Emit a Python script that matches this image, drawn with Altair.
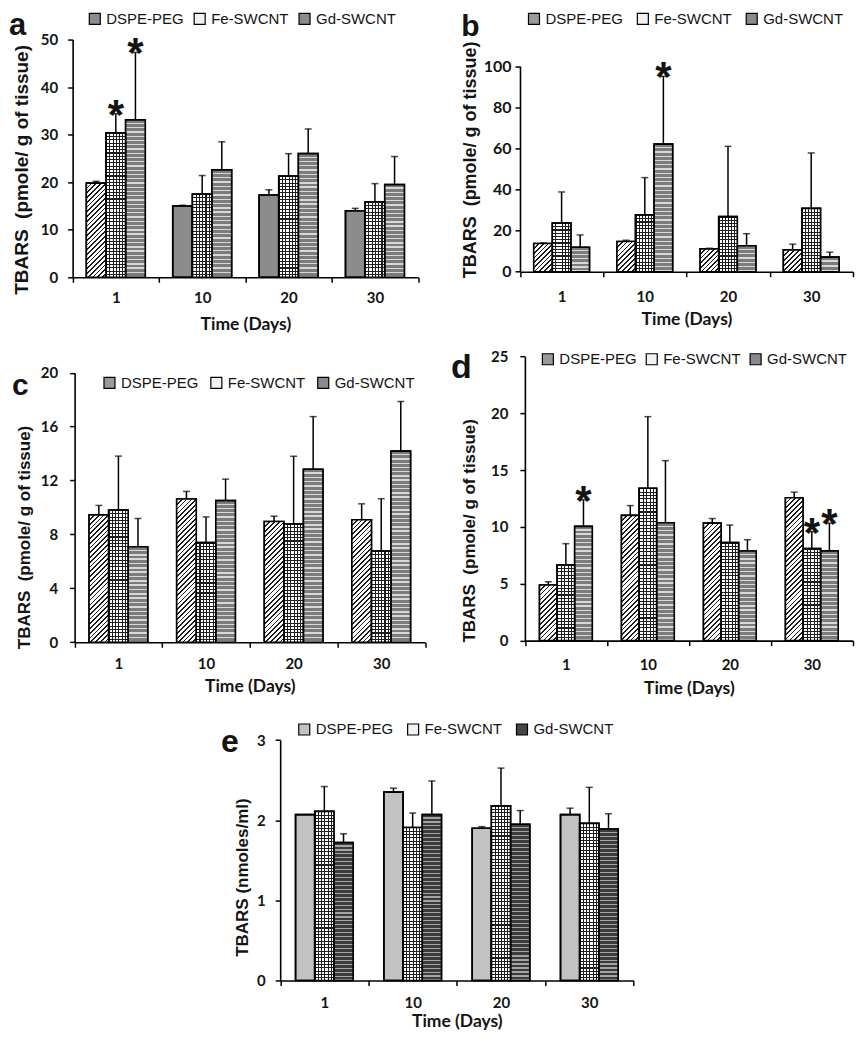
import math
import altair as alt
import pandas as pd

# ------------------------------------------------------------------ data
days = ["1", "10", "20", "30"]
series = ["DSPE-PEG", "Fe-SWCNT", "Gd-SWCNT"]

# panel a
a_dspe = [19.8, 15.0, 17.3, 14.0]
a_dspe_err = [0.4, 0.15, 1.1, 0.5]
a_fe = [30.4, 17.5, 21.3, 15.9]
a_fe_err = [4.0, 3.9, 4.7, 3.8]
a_gd = [33.1, 22.6, 26.0, 19.5]
a_gd_err = [14.2, 5.9, 5.2, 5.9]
a_stars = [("Fe-SWCNT", "1"), ("Gd-SWCNT", "1")]

# panel b
b_dspe = [13.7, 14.7, 11.1, 10.6]
b_dspe_err = [0.3, 0.6, 0.3, 2.8]
b_fe = [23.7, 27.7, 26.8, 30.8]
b_fe_err = [15.1, 18.1, 34.2, 27.0]
b_gd = [11.9, 62.1, 12.6, 7.1]
b_gd_err = [6.0, 33.0, 5.9, 2.4]
b_stars = [("Gd-SWCNT", "10")]

# panel c
c_dspe = [9.45, 10.63, 8.96, 9.09]
c_dspe_err = [0.70, 0.56, 0.39, 1.18]
c_fe = [9.81, 7.39, 8.77, 6.77]
c_fe_err = [4.0, 1.91, 5.03, 3.88]
c_gd = [7.08, 10.51, 12.83, 14.18]
c_gd_err = [2.10, 1.59, 3.91, 3.68]
c_stars = []

# panel d
d_dspe = [4.90, 11.02, 10.34, 12.57]
d_dspe_err = [0.28, 0.86, 0.40, 0.49]
d_fe = [6.67, 13.40, 8.62, 8.10]
d_fe_err = [1.86, 6.30, 1.55, 1.49]
d_gd = [10.05, 10.37, 7.88, 7.90]
d_gd_err = [2.35, 5.46, 1.00, 2.44]
d_stars = [("Gd-SWCNT", "1"), ("Fe-SWCNT", "30"), ("Gd-SWCNT", "30")]

# panel e
e_dspe = [2.07, 2.35, 1.90, 2.07]
e_dspe_err = [0.0, 0.05, 0.02, 0.08]
e_fe = [2.11, 1.91, 2.18, 1.96]
e_fe_err = [0.31, 0.18, 0.47, 0.45]
e_gd = [1.72, 2.07, 1.95, 1.89]
e_gd_err = [0.11, 0.42, 0.17, 0.19]
e_stars = []

a_yticks = [0, 10, 20, 30, 40, 50]
b_yticks = [0, 20, 40, 60, 80, 100]
c_yticks = [0, 4, 8, 12, 16, 20]
d_yticks = [0, 5, 10, 15, 20, 25]
e_yticks = [0, 1, 2, 3]

ytitle_tissue = "TBARS\u00a0 (pmole/ g of tissue)"
ytitle_serum = "TBARS (nmoles/ml)"
xtitle = "Time (Days)"
letters = ["a", "b", "c", "d", "e"]

INK = "#141414"
FULL_W = 846


# ------------------------------------------------------------------ fill patterns (gradients)
def stripes(n, line, bg, frac, x2, y2):
    stops = []
    for i in range(n):
        a = round(i / n, 5)
        b = round((i + frac) / n, 5)
        c = round((i + 1) / n, 5)
        stops += [
            {"offset": a, "color": line},
            {"offset": b, "color": line},
            {"offset": b, "color": bg},
            {"offset": c, "color": bg},
        ]
    return {"gradient": "linear", "x1": 0, "y1": 0, "x2": x2, "y2": y2, "stops": stops}


def pattern_fills(kind, w, h):
    h = max(h, 1.0)
    if kind == "hatch":
        r = h / w
        k = (1 + r) / (1 + r * r)
        n = max(1, round((w + h) / (math.sqrt(2) * 3.4)))
        return [stripes(n, "#1e1e1e", "#ffffff", 0.36, round(k, 5), round(k * r, 5))]
    if kind == "grid":
        nv = max(1, round(w / 3.3))
        nh = max(1, round(h / 3.3))
        return [
            stripes(nv, "#1e1e1e", "#ffffff", 0.32, 1, 0),
            stripes(nh, "#1e1e1e", "rgba(255,255,255,0)", 0.32, 0, 1),
        ]
    if kind == "stripe":
        n = max(1, round(h / 4.3))
        return [stripes(n, "#7c7c7c", "#d8d8d8", 0.68, 0, 1)]
    if kind == "stripe_dark":
        n = max(1, round(h / 4.0))
        return [stripes(n, "#3c3c3c", "#a4a4a4", 0.72, 0, 1)]
    return []


# ------------------------------------------------------------------ panel builder
def panel(cfg):
    rows = []
    for s, ms, es in zip(series, cfg["means"], cfg["errs"]):
        for d, m, e in zip(days, ms, es):
            rows.append({
                "day": d, "series": s, "mean": m, "err": e,
                "upper": round(m + e, 4),
                "star": 1 if (s, d) in cfg["stars"] else 0,
            })
    df = pd.DataFrame(rows)

    oy = cfg["oy"]
    H = cfg["h"]
    xr = cfg["xr"]
    yr = [cfg["yr"][0] - oy, cfg["yr"][1] - oy]
    yticks = cfg["yticks"]
    ymax = yticks[-1]
    pad = cfg["pad"]
    step = (xr[1] - xr[0]) / len(days)
    bw = step / (len(series) + 2 * pad)
    ppu = (yr[0] - yr[1]) / ymax

    xs = alt.Scale(domain=days, range=xr, paddingInner=0, paddingOuter=0)
    xos = alt.Scale(domain=series, paddingInner=0, paddingOuter=pad)
    ys = alt.Scale(domain=[0, ymax], range=yr, nice=False, zero=True)

    xaxis = alt.Axis(
        labelAngle=0, offset=round(yr[0] - H, 2), tickBand="extent",
        tickSize=5, tickWidth=1.5, tickColor="black",
        domainColor="black", domainWidth=1.6, grid=False,
        labelFont="Lato", labelFontWeight="bold", labelFontSize=15,
        labelColor=INK, labelBaseline="middle", labelPadding=cfg["xlabpad"],
        titleFont="Lato", titleFontWeight="bold", titleFontSize=17.5,
        titleColor=INK, titleBaseline="middle", titleY=cfg["xtitley"],
    )
    yaxis = alt.Axis(
        values=yticks, offset=-xr[0],
        tickSize=5, tickWidth=1.5, tickColor="black",
        domainColor="black", domainWidth=1.6, grid=False,
        labelFont="Lato", labelFontWeight="bold", labelFontSize=cfg["ylabsize"],
        labelColor=INK, labelPadding=cfg["ylabpad"],
        titleFont="Liberation Sans", titleFontWeight="bold",
        titleFontSize=cfg["ytitlesize"], titleColor=INK,
        titleX=cfg["ytitlex"], titleY=round(cfg["ytitley"] - oy, 2),
    )

    X = alt.X("day:N", sort=days, scale=xs, axis=xaxis, title=xtitle)
    XO = alt.XOffset("series:N", sort=series, scale=xos)

    def Y(field):
        return alt.Y(f"{field}:Q", scale=ys, axis=yaxis, title=cfg["ytitle"])

    legend = alt.Legend(
        title=None, orient="none", direction="horizontal",
        legendX=cfg["legx"], legendY=round(cfg["legy"] - oy, 2), padding=0,
        symbolType="square", symbolSize=121, symbolStrokeColor="black",
        symbolStrokeWidth=1.2, symbolOpacity=1,
        labelFont="Liberation Sans", labelFontSize=15, labelColor=INK,
        labelOffset=4, columnPadding=cfg["legpad"],
    )

    layers = []
    base = alt.Chart().mark_bar(stroke="black", strokeWidth=1.6).encode(
        x=X, xOffset=XO, y=Y("mean"),
        color=alt.Color("series:N", sort=series,
                        scale=alt.Scale(domain=series, range=cfg["colors"]),
                        legend=legend),
    )
    layers.append(base)

    for s, ms in zip(series, cfg["means"]):
        for i, (d, m) in enumerate(zip(days, ms)):
            kind = cfg["pat"][s][i]
            for g in pattern_fills(kind, bw, m * ppu):
                layers.append(
                    alt.Chart().mark_bar(fill=g, strokeWidth=0)
                    .encode(x=X, xOffset=XO, y=Y("mean"))
                    .transform_filter(f"datum.day === '{d}' && datum.series === '{s}'")
                )

    layers.append(
        alt.Chart().mark_bar(fillOpacity=0, stroke="black", strokeWidth=1.6)
        .encode(x=X, xOffset=XO, y=Y("mean"))
    )
    layers.append(
        alt.Chart().mark_rule(color="black", strokeWidth=1.5)
        .encode(x=X, xOffset=XO, y=Y("mean"), y2=alt.Y2("upper:Q"))
        .transform_filter("datum.err > 0")
    )
    layers.append(
        alt.Chart().mark_tick(orient="horizontal", size=7, thickness=1.5, color="black")
        .encode(x=X, xOffset=XO, y=Y("upper"))
        .transform_filter("datum.err > 0")
    )
    layers.append(
        alt.Chart().mark_text(text="*", font="Liberation Sans", fontWeight="bold",
                              fontSize=42, color=INK, baseline="alphabetic", dy=15)
        .encode(x=X, xOffset=XO, y=Y("upper"))
        .transform_filter("datum.star == 1")
    )
    layers.append(
        alt.Chart(pd.DataFrame({"label": [cfg["letter"]]}))
        .mark_text(font="Liberation Sans", fontWeight="bold", fontSize=cfg["letsize"],
                   color=INK, align="left", baseline="alphabetic")
        .encode(text="label:N", x=alt.value(cfg["letx"]),
                y=alt.value(round(cfg["lety"] - oy, 2)))
    )
    return alt.layer(*layers, data=df).properties(width=FULL_W, height=H)


hatch4 = ["hatch"] * 4
grid4 = ["grid"] * 4
stripe4 = ["stripe"] * 4

# all positions below are in pixels of the whole drawing; "oy"/"h" stack the panels
panels_cfg = [
    dict(letter=letters[0], means=[a_dspe, a_fe, a_gd], errs=[a_dspe_err, a_fe_err, a_gd_err],
         stars=a_stars, yticks=a_yticks, ytitle=ytitle_tissue,
         oy=0, h=1, xr=[63.7, 409.6], yr=[268.0, 30.0], pad=0.70,
         xlabpad=15.5, xtitley=47, ylabpad=10, ylabsize=15,
         ytitlesize=19, ytitlex=-41, ytitley=160,
         legx=78.4, legy=1.5, legpad=7,
         colors=["#8c8c8c", "#f2f2f2", "#8a8a8a"],
         pat={"DSPE-PEG": ["hatch", "solid", "solid", "solid"], "Fe-SWCNT": grid4, "Gd-SWCNT": stripe4},
         letx=0, lety=25.5, letsize=31),
    dict(letter=letters[1], means=[b_dspe, b_fe, b_gd], errs=[b_dspe_err, b_fe_err, b_gd_err],
         stars=b_stars, yticks=b_yticks, ytitle=ytitle_tissue,
         oy=1, h=312, xr=[511.6, 844.8], yr=[262.4, 56.7], pad=0.74,
         xlabpad=19.5, xtitley=48, ylabpad=4, ylabsize=16,
         ytitlesize=18, ytitlex=-41, ytitley=150,
         legx=518.1, legy=1.5, legpad=11,
         colors=["#9a9a9a", "#f2f2f2", "#8a8a8a"],
         pat={"DSPE-PEG": hatch4, "Fe-SWCNT": grid4, "Gd-SWCNT": stripe4},
         letx=452.8, lety=26, letsize=30),
    dict(letter=letters[2], means=[c_dspe, c_fe, c_gd], errs=[c_dspe_err, c_fe_err, c_gd_err],
         stars=c_stars, yticks=c_yticks, ytitle=ytitle_tissue,
         oy=313, h=1, xr=[65.7, 416.5], yr=[633.4, 363.5], pad=0.74,
         xlabpad=16.5, xtitley=44, ylabpad=12, ylabsize=15,
         ytitlesize=17, ytitlex=-41, ytitley=528,
         legx=93.1, legy=365.9, legpad=9,
         colors=["#9a9a9a", "#f2f2f2", "#8a8a8a"],
         pat={"DSPE-PEG": hatch4, "Fe-SWCNT": grid4, "Gd-SWCNT": stripe4},
         letx=3, lety=386.3, letsize=30),
    dict(letter=letters[3], means=[d_dspe, d_fe, d_gd], errs=[d_dspe_err, d_fe_err, d_gd_err],
         stars=d_stars, yticks=d_yticks, ytitle=ytitle_tissue,
         oy=314, h=371, xr=[516.5, 844.8], yr=[631.8, 347.2], pad=0.83,
         xlabpad=18.5, xtitley=48, ylabpad=12, ylabsize=15,
         ytitlesize=17, ytitlex=-46, ytitley=521.3,
         legx=532.0, legy=342.3, legpad=6,
         colors=["#9a9a9a", "#f2f2f2", "#8a8a8a"],
         pat={"DSPE-PEG": hatch4, "Fe-SWCNT": grid4, "Gd-SWCNT": stripe4},
         letx=442.6, lety=368.4, letsize=34),
    dict(letter=letters[4], means=[e_dspe, e_fe, e_gd], errs=[e_dspe_err, e_fe_err, e_gd_err],
         stars=e_stars, yticks=e_yticks, ytitle=ytitle_serum,
         oy=685, h=338, xr=[271.5, 625.2], yr=[972.1, 731.3], pad=0.80,
         xlabpad=16.5, xtitley=41, ylabpad=10, ylabsize=15,
         ytitlesize=17, ytitlex=-28.5, ytitley=868.5,
         legx=288.1, legy=713, legpad=11,
         colors=["#c2c2c2", "#f2f2f2", "#454545"],
         pat={"DSPE-PEG": ["solid"] * 4, "Fe-SWCNT": grid4, "Gd-SWCNT": ["stripe_dark"] * 4},
         letx=212.3, lety=743.3, letsize=32),
]

charts = [panel(c) for c in panels_cfg]

chart = (
    alt.vconcat(*charts, spacing=0, bounds="flush")
    .resolve_scale(x="independent", y="independent", color="independent", xOffset="independent")
    .resolve_legend(color="independent")
    .properties(padding=0)
    .configure_view(stroke="transparent")
)

chart.save("out.html", embed_options={"renderer": "svg", "actions": False})
